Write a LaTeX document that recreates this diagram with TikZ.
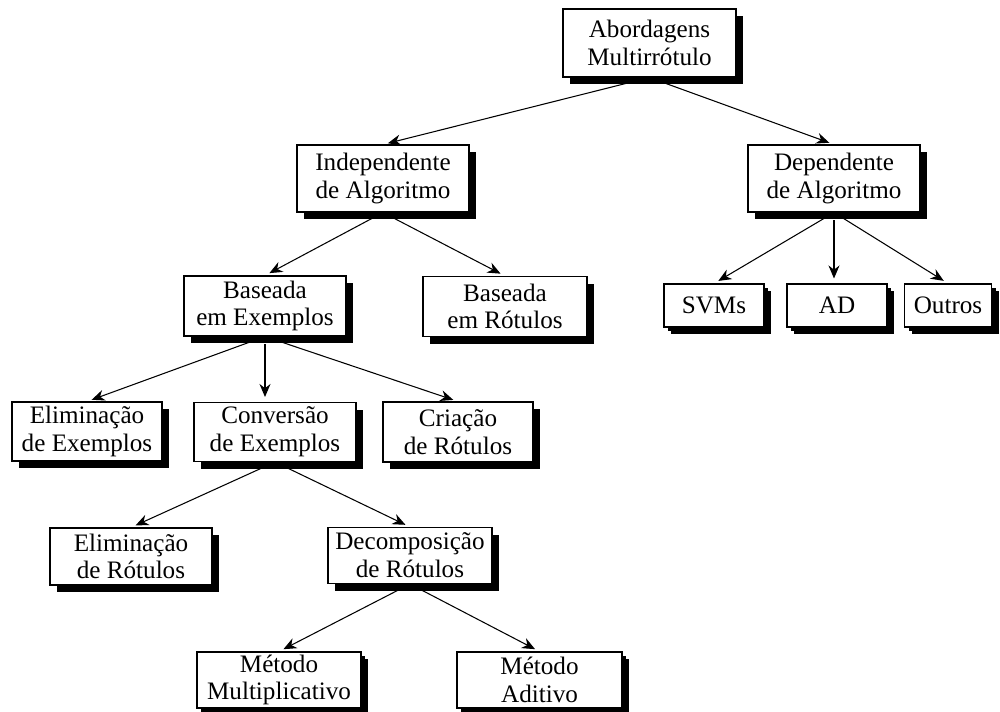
\documentclass[tikz,border=0pt]{standalone}
\usepackage{fontspec}
\setmainfont{Liberation Serif}
\usepackage{tikz}
\usetikzlibrary{shapes,arrows.meta,positioning,calc,shadows}

\tikzset{
    caixa/.style={draw, fill=white, line width=0.6pt, align=center, inner sep=1pt,
        font=\fontsize{14.3}{15.8}\selectfont,
        drop shadow={shadow xshift=0.14cm, shadow yshift=-0.14cm, fill=black, opacity=1}},
    caixinha/.style={caixa,
        drop shadow={shadow xshift=0.08cm, shadow yshift=-0.08cm, fill=black, opacity=1}},
    seta/.style={-{Stealth[length=2.6mm,width=2.2mm]}, line width=0.6pt,
        shorten <=0.15cm, shorten >=0.1cm}
}

\begin{document}
\begin{tikzpicture}
    \useasboundingbox (0,0) rectangle (20,-14.22);

    % Raiz
    \node[caixa, minimum width=3.46cm, minimum height=1.36cm] (abord) at (12.99,-0.86) {Abordagens\\Multirrótulo};

    % Nivel 1
    \node[caixa, minimum width=3.44cm, minimum height=1.34cm] (indep) at (7.66,-3.57) {Independente\\de Algoritmo};
    \node[caixa, minimum width=3.44cm, minimum height=1.34cm] (dep) at (16.68,-3.57) {Dependente\\de Algoritmo};

    % Nivel 2
    \node[caixa, minimum width=3.24cm, minimum height=1.2cm] (basex) at (5.3,-6.12) {Baseada\\em Exemplos};
    \node[caixa, minimum width=3.28cm, minimum height=1.2cm] (basrot) at (10.1,-6.13) {Baseada\\em Rótulos};
    \node[caixinha, minimum width=2cm, minimum height=0.86cm] (svm) at (14.28,-6.11) {SVMs};
    \node[caixinha, minimum width=2cm, minimum height=0.86cm] (ad) at (16.74,-6.11) {AD};
    \node[caixinha, minimum width=1.74cm, minimum height=0.86cm] (outros) at (18.96,-6.11) {Outros};

    % Nivel 3
    \node[caixa, minimum width=3cm, minimum height=1.18cm] (elimex) at (1.74,-8.63) {Eliminação\\de Exemplos};
    \node[caixa, minimum width=3.24cm, minimum height=1.18cm] (convex) at (5.5,-8.64) {Conversão\\de Exemplos};
    \node[caixa, minimum width=3cm, minimum height=1.2cm] (criarot) at (9.16,-8.64) {Criação\\de Rótulos};

    % Nivel 4
    \node[caixa, minimum width=3.24cm, minimum height=1.14cm] (elimrot) at (2.62,-11.13) {Eliminação\\de Rótulos};
    \node[caixa, minimum width=3.28cm, minimum height=1.12cm] (decrot) at (8.2,-11.11) {Decomposição\\de Rótulos};

    % Nivel 5
    \node[caixinha, minimum width=3.28cm, minimum height=1.12cm] (metmult) at (5.58,-13.6) {Método\\Multiplicativo};
    \node[caixinha, minimum width=3.3cm, minimum height=1.12cm] (metad) at (10.79,-13.6) {Método\\Aditivo};

    % Setas
    \draw[seta] (abord.south) -- (indep.north);
    \draw[seta] (abord.south) -- (dep.north);
    \draw[seta] (indep.south) -- (basex.north);
    \draw[seta] (indep.south) -- (basrot.north);
    \draw[seta] (dep.south) -- (svm.north);
    \draw[seta] (dep.south) -- (dep.south |- ad.north);
    \draw[seta] (dep.south) -- (outros.north);
    \draw[seta] (basex.south) -- (elimex.north);
    \draw[seta] (basex.south) -- (basex.south |- convex.north);
    \draw[seta] (basex.south) -- (criarot.north);
    \draw[seta] (convex.south) -- (elimrot.north);
    \draw[seta] (convex.south) -- (decrot.north);
    \draw[seta] (decrot.south) -- (metmult.north);
    \draw[seta] (decrot.south) -- (metad.north);

\end{tikzpicture}
\end{document}
